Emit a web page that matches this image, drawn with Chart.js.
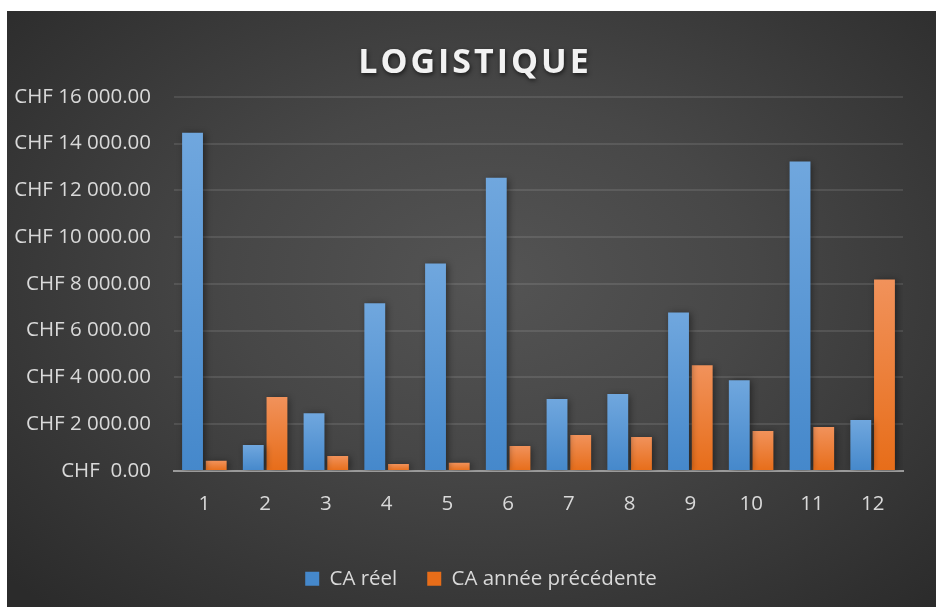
<!DOCTYPE html>
<html>
<head>
<meta charset="utf-8">
<script src="https://cdn.jsdelivr.net/npm/chart.js@4"></script>
<style>
  html, body { margin: 0; padding: 0; background: #fff; }
  #wrap {
    position: absolute;
    left: 7px;
    top: 11px;
    width: 929px;
    height: 596px;
    background: radial-gradient(ellipse 70% 75% at 52% 45%, #545454 0%, #474747 40%, #2b2b2b 100%);
  }
</style>
</head>
<body>
<div id="wrap"><canvas id="chart"></canvas></div>
<script>
const months = ['1', '2', '3', '4', '5', '6', '7', '8', '9', '10', '11', '12']
const caReel = [14460, 1110, 2470, 7170, 8870, 12540, 3070, 3290, 6780, 3880, 13230, 2180]
const caPrecedent = [430, 3160, 640, 300, 350, 1070, 1540, 1450, 4520, 1710, 1880, 8190]
const yTickLabels = [
  'CHF  0.00', 'CHF 2 000.00', 'CHF 4 000.00', 'CHF 6 000.00', 'CHF 8 000.00',
  'CHF 10 000.00', 'CHF 12 000.00', 'CHF 14 000.00', 'CHF 16 000.00'
]

const textColor = '#d9d9d9'
const fontFamily = "'Open Sans', sans-serif"

function barGradient(top, bottom) {
  return function (context) {
    const chart = context.chart
    const yScale = chart.scales.y
    if (!chart.chartArea || !yScale) return bottom
    const value = context.raw || 0
    const yTop = yScale.getPixelForValue(value)
    const yBase = yScale.getPixelForValue(0)
    if (!isFinite(yTop) || yBase - yTop < 1) return bottom
    const g = chart.ctx.createLinearGradient(0, yTop, 0, yBase)
    g.addColorStop(0, top)
    g.addColorStop(1, bottom)
    return g
  }
}

// title and legend are centred on the whole chart in the original, not on the plot
function shiftBox(chart, box, dx, dy, extra) {
  if (!box || box._patched) return
  const orig = box.draw.bind(box)
  box.draw = function () {
    const ctx = chart.ctx
    ctx.save()
    ctx.translate(dx, dy)
    if (extra) extra(ctx)
    orig()
    ctx.restore()
  }
  box._patched = true
}

const excelLook = {
  id: 'excelLook',
  beforeDraw(chart) {
    shiftBox(chart, chart.titleBlock, 18, 2, (ctx) => {
      ctx.letterSpacing = '3px'
      ctx.shadowColor = 'rgba(0,0,0,0.6)'
      ctx.shadowBlur = 4
      ctx.shadowOffsetX = 1
      ctx.shadowOffsetY = 2
    })
    shiftBox(chart, chart.legend, 24, 1)
  },
  beforeDatasetsDraw(chart) {
    const ctx = chart.ctx
    ctx.save()
    ctx.shadowColor = 'rgba(0,0,0,0.45)'
    ctx.shadowBlur = 7
    ctx.shadowOffsetX = 2
    ctx.shadowOffsetY = 1
  },
  afterDatasetsDraw(chart) {
    chart.ctx.restore()
  },
}

new Chart(document.getElementById('chart'), {
  type: 'bar',
  data: {
    labels: months,
    datasets: [
      {
        label: 'CA réel',
        data: caReel,
        backgroundColor: barGradient('#70a7de', '#4588cb'),
        borderWidth: 0,
      },
      {
        label: 'CA année précédente',
        data: caPrecedent,
        backgroundColor: barGradient('#f1925b', '#e76d19'),
        borderWidth: 0,
      },
    ],
  },
  plugins: [excelLook],
  options: {
    responsive: true,
    maintainAspectRatio: false,
    animation: false,
    layout: {
      padding: { left: 4, right: 33, top: 0, bottom: 9 },
    },
    datasets: {
      bar: {
        categoryPercentage: 0.78,
        barPercentage: 0.88,
      },
    },
    scales: {
      x: {
        grid: { display: false, drawTicks: false },
        border: { display: true, color: '#9a9a9a', width: 2 },
        ticks: {
          color: textColor,
          font: { family: fontFamily, size: 20.5 },
          padding: 21,
        },
      },
      y: {
        min: 0,
        max: 16000,
        afterFit(scale) {
          scale.width = 163
        },
        grid: {
          color: 'rgba(255,255,255,0.1)',
          lineWidth: 2,
          drawTicks: false,
        },
        border: { display: false },
        ticks: {
          stepSize: 2000,
          color: textColor,
          font: { family: fontFamily, size: 20.5 },
          padding: 23,
          callback: function (value, index) {
            return yTickLabels[index]
          },
        },
      },
    },
    plugins: {
      title: {
        display: true,
        text: 'LOGISTIQUE',
        color: '#f2f2f2',
        font: { family: fontFamily, size: 34, weight: 'bold' },
        padding: { top: 30, bottom: 15 },
      },
      legend: {
        position: 'bottom',
        labels: {
          color: textColor,
          font: { family: fontFamily, size: 20.5 },
          boxWidth: 14,
          boxHeight: 14,
          padding: 30,
        },
      },
      tooltip: { enabled: false },
    },
  },
})
</script>
</body>
</html>
